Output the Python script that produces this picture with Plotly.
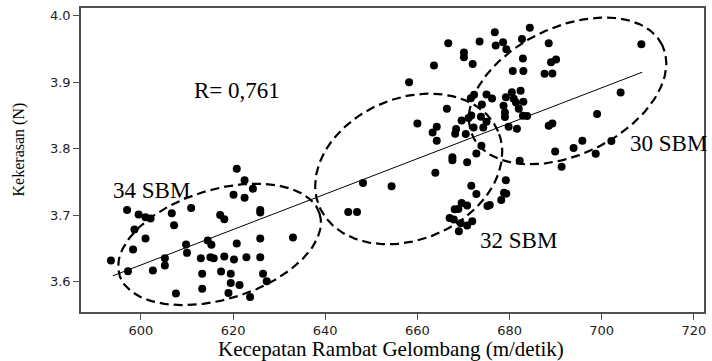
import numpy as np
import plotly.graph_objects as go

# Kecepatan rambat gelombang (m/detik)
speed = [593.5, 597.0, 597.2, 598.3, 598.6, 599.5, 601.0, 602.1, 601.0, 602.6,
         605.2, 605.2, 606.7, 607.2, 607.6, 610.9, 609.8, 610.0, 613.0, 613.3,
         613.3, 614.5, 615.3, 615.1, 615.8, 617.2, 618.1, 617.4, 618.1, 619.0,
         619.5, 619.5, 620.1, 620.2, 620.8, 620.8, 621.4, 622.5, 622.5, 622.9,
         624.3, 623.7, 625.9, 625.9, 625.9, 625.9, 626.5, 627.3, 633.0,
         645.0, 646.9, 648.2, 654.4, 658.2, 660.0, 663.6, 663.3, 664.2, 664.2,
         663.9, 666.7, 666.4, 667.0, 667.6, 667.6, 667.9, 668.1, 668.4, 668.2,
         668.9, 669.0, 669.4, 669.6, 669.6, 670.1, 670.1, 670.5, 670.8, 670.8,
         670.8, 671.1, 671.7, 671.6, 672.0, 671.7, 671.9, 672.2, 672.3, 672.8,
         672.8, 673.5, 673.8, 673.9, 674.0, 674.3, 675.0, 675.0, 675.2, 675.7,
         676.2, 676.8, 677.0, 678.6, 679.3, 678.7, 679.0, 679.0, 679.2, 678.2,
         678.8, 679.3, 679.2, 679.8, 680.5, 680.7, 680.9, 681.4, 681.6, 682.0,
         682.4, 682.2, 682.7, 683.0, 682.9, 683.0, 682.9, 683.8, 684.4, 687.6,
         688.5, 688.5, 689.0, 689.3, 689.3, 690.1, 689.9, 691.3, 693.9, 695.8,
         698.7, 699.0, 702.1, 704.1, 708.6]

# Kekerasan (N)
hardness = [3.632, 3.708, 3.616, 3.6485, 3.6785, 3.701, 3.697, 3.695, 3.665, 3.617,
            3.6355, 3.6245, 3.703, 3.685, 3.5825, 3.711, 3.656, 3.6435, 3.6355, 3.612,
            3.5895, 3.662, 3.6555, 3.637, 3.6355, 3.7005, 3.694, 3.6155, 3.638, 3.583,
            3.612, 3.598, 3.731, 3.6335, 3.770, 3.6575, 3.595, 3.7525, 3.7265, 3.637,
            3.740, 3.577, 3.708, 3.704, 3.665, 3.637, 3.612, 3.601, 3.6665,
            3.705, 3.705, 3.7485, 3.7435, 3.900, 3.838, 3.925, 3.8245, 3.833, 3.812,
            3.764, 3.9585, 3.860, 3.696, 3.787, 3.7825, 3.6935, 3.709, 3.8295, 3.8225,
            3.7095, 3.676, 3.688, 3.7185, 3.8425, 3.9445, 3.9375, 3.822, 3.7145, 3.7795,
            3.6845, 3.846, 3.850, 3.876, 3.9275, 3.7445, 3.691, 3.832, 3.881, 3.732,
            3.793, 3.961, 3.848, 3.8045, 3.8665, 3.832, 3.8405, 3.8815, 3.714, 3.7155,
            3.8755, 3.975, 3.955, 3.960, 3.9495, 3.8645, 3.8545, 3.8475, 3.8775, 3.723,
            3.734, 3.7325, 3.7525, 3.833, 3.885, 3.917, 3.875, 3.8695, 3.830, 3.860,
            3.887, 3.782, 3.965, 3.917, 3.9355, 3.8705, 3.8495, 3.849, 3.982, 3.9125,
            3.9585, 3.8345, 3.930, 3.913, 3.838, 3.934, 3.796, 3.773, 3.801, 3.812,
            3.7925, 3.852, 3.8115, 3.8845, 3.957]

# regression line end points
fit_x = [593.9, 708.8]
fit_y = [3.609, 3.915]

x_ticks = [600, 620, 640, 660, 680, 700, 720]
y_ticks = [3.6, 3.7, 3.8, 3.9, 4.0]

group_labels = ["34 SBM", "32 SBM", "30 SBM"]
r_label = "R= 0,761"

# layout constants
W, H = 712, 361
ML, MR, MT, MB = 81, 6, 7, 49
XR = [587.0, 722.2]
YR = [3.5546, 4.0115]
sx = (W - ML - MR) / (XR[1] - XR[0])   # px per x unit
sy = (H - MT - MB) / (YR[1] - YR[0])   # px per y unit

fig = go.Figure()

# dashed ellipses (centre in data units, semi-axes in px, tilt in degrees)
ellipses = [
    (617.07, 3.6562, 105, 55, 17),
    (658.12, 3.7696, 97.3, 71, 22.8),
    (692.6, 3.8869, 105.5, 64, 25.7),
]
t = np.linspace(0, 2 * np.pi, 200)
for cx, cy, a, b, ang in ellipses:
    th = np.deg2rad(ang)
    dx = a * np.cos(t) * np.cos(th) - b * np.sin(t) * np.sin(th)
    dy = a * np.cos(t) * np.sin(th) + b * np.sin(t) * np.cos(th)
    fig.add_trace(go.Scatter(x=cx + dx / sx, y=cy + dy / sy, mode="lines",
                             line=dict(color="black", width=2.2, dash="9px,5px"),
                             hoverinfo="skip", showlegend=False))

fig.add_trace(go.Scatter(x=fit_x, y=fit_y, mode="lines",
                         line=dict(color="black", width=1), showlegend=False))

fig.add_trace(go.Scatter(x=speed, y=hardness, mode="markers",
                         marker=dict(color="black", size=8), showlegend=False))

serif = "Liberation Serif"
annots = [
    dict(x=620.85, y=3.8876, text=r_label, size=23),
    dict(x=602.3, y=3.7378, text=group_labels[0], size=23),
    dict(x=681.85, y=3.6614, text=group_labels[1], size=23),
    dict(x=714.6, y=3.8082, text=group_labels[2], size=23),
]
for an in annots:
    fig.add_annotation(x=an["x"], y=an["y"], xref="x", yref="y", text=an["text"],
                       showarrow=False, xanchor="center", yanchor="middle",
                       font=dict(family=serif, size=an["size"], color="black"))

fig.add_annotation(x=0.4968, y=-0.1213, xref="paper", yref="paper",
                   text="Kecepatan Rambat Gelombang (m/detik)", showarrow=False,
                   xanchor="center", yanchor="middle",
                   font=dict(family=serif, size=21, color="black"))
fig.add_annotation(x=-0.0992, y=0.5354, xref="paper", yref="paper",
                   text="Kekerasan (N)", showarrow=False, textangle=-90,
                   xanchor="center", yanchor="middle",
                   font=dict(family=serif, size=16, color="black"))

axis_common = dict(showline=True, mirror=True, linecolor="#505050", linewidth=1.5,
                   ticks="outside", ticklen=6, tickwidth=1.2, tickcolor="#505050",
                   showgrid=False, zeroline=False,
                   tickfont=dict(family="DejaVu Sans", size=13, color="#222222"))

fig.update_layout(
    width=W, height=H,
    margin=dict(l=ML, r=MR, t=MT, b=MB),
    paper_bgcolor="white", plot_bgcolor="white",
    xaxis=dict(range=XR, tickvals=x_ticks, **axis_common),
    yaxis=dict(range=YR, tickvals=y_ticks, tickformat=".1f", **axis_common),
    showlegend=False,
)

fig.write_html("out.html")
